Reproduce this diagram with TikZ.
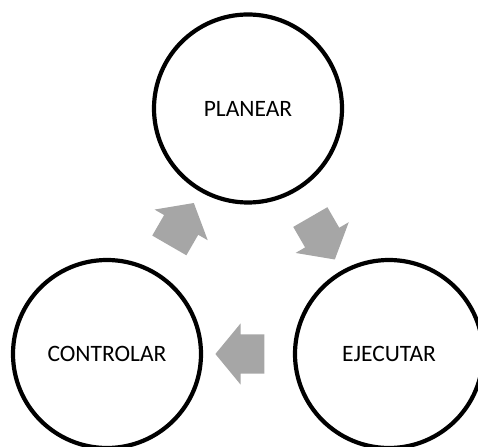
\documentclass[tikz,border=0pt]{standalone}
\usepackage{fontspec}
\setmainfont{Carlito}
\usepackage{tikz}
\usetikzlibrary{shapes.arrows,calc,positioning}
\definecolor{grisflecha}{RGB}{166,166,166}

\begin{document}
\begin{tikzpicture}
	[x=1pt,y=1pt,
	etapa/.style={circle,draw=black,line width=4.2pt,fill=white,
		inner sep=0pt,minimum size=188pt,
		font=\fontsize{23.5}{28}\selectfont},
	flecha/.style={single arrow,draw=none,fill=grisflecha,
		inner xsep=0pt,inner ysep=19.5pt,minimum height=49pt,
		single arrow head extend=11pt,single arrow tip angle=101,
		single arrow head indent=0pt}]
	\useasboundingbox (0,0) rectangle (478,446);
	\clip (0,0) rectangle (478,446);
	%  circulos del ciclo
	\node[etapa] (planear) at (248,337.5) {PLANEAR};
	\node[etapa] (controlar) at (107,92) {CONTROLAR};
	\node[etapa] (ejecutar) at (389,92) {EJECUTAR};
	%---------------------flechas entre etapas------------
	\node[flecha,rotate=-60] (flechaPE) at ($(planear)!0.5!(ejecutar)$) {};
	\node[flecha,rotate=180] (flechaEC) at ($(ejecutar)!0.5!(controlar)$) {};
	\node[flecha,rotate=60] (flechaCP) at ($(controlar)!0.5!(planear)$) {};
\end{tikzpicture}
\end{document}
